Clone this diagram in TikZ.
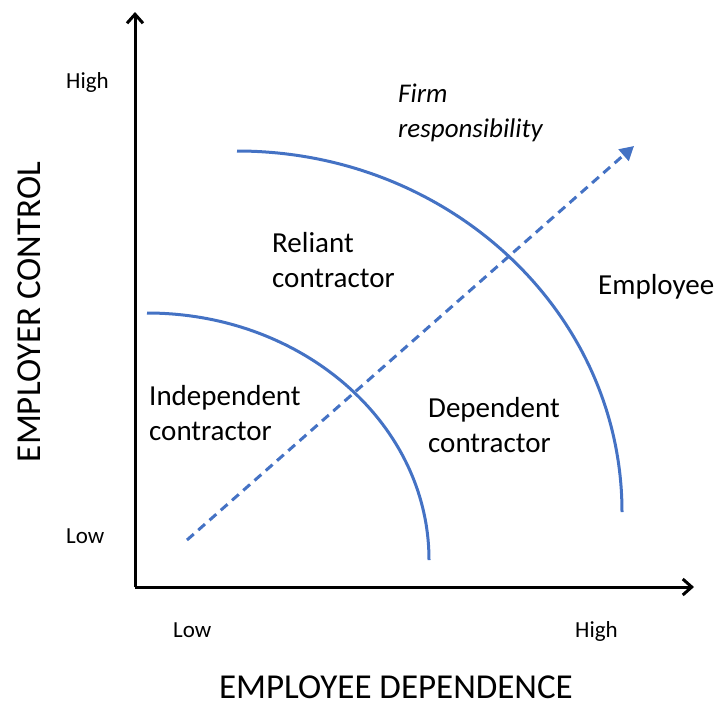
\documentclass[tikz,border=0pt]{standalone}
\usepackage{fontspec}
\setmainfont{Carlito}
\usetikzlibrary{arrows.meta}
\definecolor{curveblue}{HTML}{4472C4}
\begin{document}
\begin{tikzpicture}[x=1pt,y=-1pt,
  axis/.style={line width=3pt,-{Straight Barb[length=9pt,width=16pt,line width=3pt]}},
  boundary/.style={curveblue,line width=3pt},
  trend/.style={curveblue,line width=3pt,dash pattern=on 9pt off 6pt,
    -{Triangle[length=14pt,width=15pt]}},
  region/.style={font=\fontsize{29}{35}\selectfont,anchor=base west,inner sep=0pt,align=left},
  tick/.style={font=\fontsize{23}{28}\selectfont,anchor=base west,inner sep=0pt},
  title/.style={font=\fontsize{35}{42}\selectfont,inner sep=0pt}]
\useasboundingbox (0,0) rectangle (717,707);

% axes
\coordinate (origin) at (135,587);
\coordinate (ytop) at (135,12);
\coordinate (xend) at (694,587);
\draw[axis] (origin) -- (ytop);
\draw[axis] (origin) -- (xend);

% boundaries between categories (quarter ellipses)
\draw[boundary] (147,313) coordinate (innerstart)
  arc[start angle=90,end angle=0,x radius=282pt,y radius=247pt] coordinate (innerend);
\draw[boundary] (237,151) coordinate (outerstart)
  arc[start angle=90,end angle=0,x radius=385pt,y radius=361pt] coordinate (outerend);

% direction of increasing responsibility
\coordinate (trendstart) at (187,540);
\coordinate (trendend) at (634,146);
\draw[trend] (trendstart) -- (trendend);

% category labels (anchored at the baseline of their last line)
\node[region] (indep) at (149,440) {Independent\\contractor};
\node[region] (reliant) at (272,287) {Reliant\\contractor};
\node[region] (dep) at (428,452) {Dependent\\contractor};
\node[region] (empl) at (598,294) {Employee};
\node[region,font=\fontsize{27}{35}\selectfont\itshape] (firm) at (398,137) {Firm\\responsibility};

% scale labels
\node[tick] (yhigh) at (66,88) {High};
\node[tick] (ylow) at (66,543) {Low};
\node[tick] (xlow) at (173,637) {Low};
\node[tick] (xhigh) at (575,637) {High};

% axis titles
\node[title,anchor=base] (xtitle) at (396,698) {EMPLOYEE DEPENDENCE};
\node[title,rotate=90,anchor=base] (ytitle) at (40,312) {EMPLOYER CONTROL};
\end{tikzpicture}
\end{document}
